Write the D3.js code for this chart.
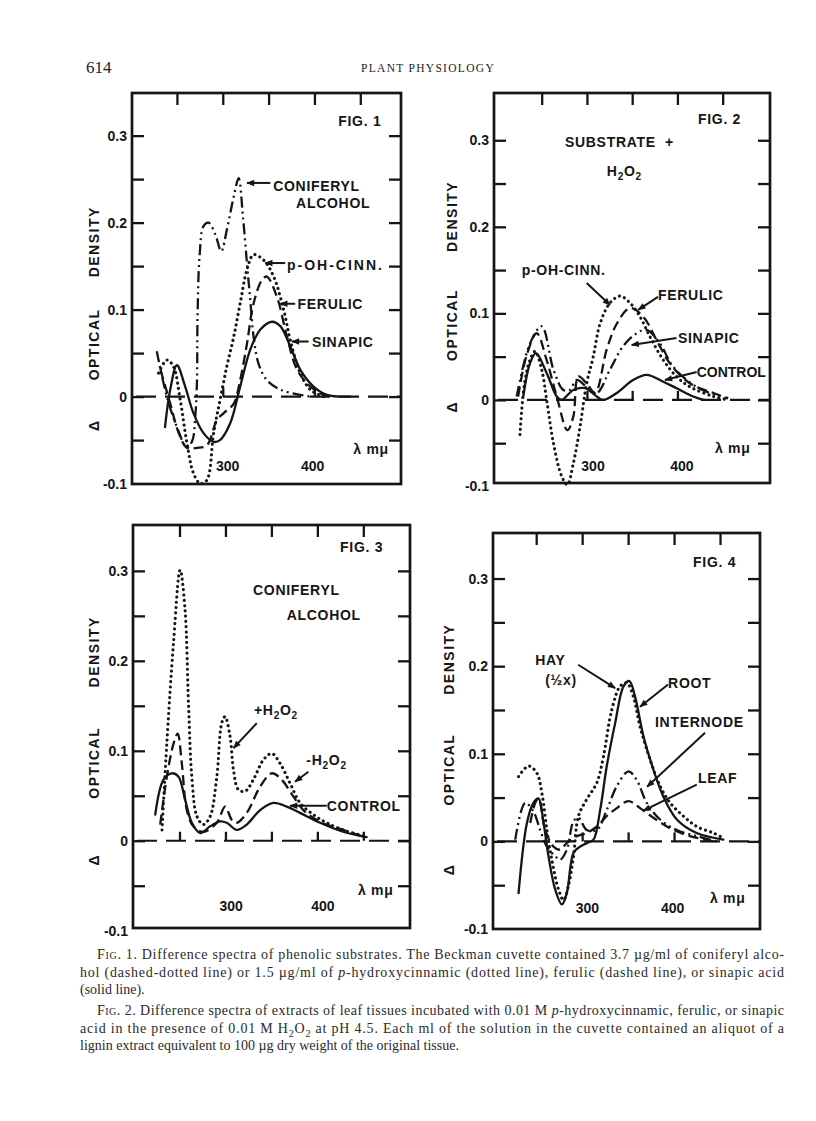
<!DOCTYPE html>
<meta charset="utf-8">
<head>
<style>
body { margin: 0; background: #fff; }
.lab { font-family: "Liberation Sans", Arial, sans-serif; font-weight: bold; font-size: 14px; fill: #151515; }
.cap { font-family: "Liberation Serif", "Times New Roman", serif; font-size: 14px; fill: #2a2a2a; }
</style>
</head>
<body>
<svg width="816" height="1121"></svg>
<script src="https://d3js.org/d3.v7.min.js"></script>
<script>
// ---- data: [wavelength (mu), delta optical density] ----
var xTickValues = [250, 300, 350, 400, 450];
var yTickValues = [-0.05, 0, 0.05, 0.1, 0.15, 0.2, 0.25, 0.3];
var yLabelValues = [-0.1, 0, 0.1, 0.2, 0.3];
var yLabelText = ["-0.1", "0", "0.1", "0.2", "0.3"];
var xLabelText = ["300", "400"];
var axisWords = ["DENSITY", "OPTICAL", "\u0394"];

// Fig 1
var fig1Coniferyl = [[228,0.052],[239,0.0],[250,-0.035],[261,-0.059],[267,-0.05],[270,-0.023],[271.8,0.015],[272.5,0.092],[274.7,0.161],[279,0.196],[284.5,0.2],[292,0.186],[298.4,0.167],[304.5,0.192],[312,0.23],[317.3,0.251],[322,0.207],[326.4,0.153],[330,0.111],[333.6,0.069],[339,0.038],[348,0.019],[362.7,0.008],[384.5,0.002],[395,0]];
var fig1Cinn = [[230,0.027],[239,0.042],[246,0.035],[253.6,-0.004],[261,-0.054],[268,-0.088],[275.5,-0.1],[282.7,-0.096],[290,-0.042],[297,-0.004],[304.5,0.035],[312,0.069],[319,0.107],[326.4,0.146],[333.6,0.163],[344.5,0.157],[355.5,0.138],[366.4,0.1],[373.6,0.065],[384.5,0.027],[395.5,0.008],[410,0]];
var fig1Ferulic = [[232,0.031],[242.7,-0.008],[252,-0.042],[261,-0.059],[272,-0.059],[282.7,-0.056],[293.6,-0.027],[301,-0.019],[312,-0.008],[319,0.019],[326.4,0.061],[333.6,0.107],[342.7,0.134],[348,0.138],[359,0.115],[370,0.069],[381,0.031],[395.5,0.0115],[413.6,0]];
var fig1Sinapic = [[237,-0.035],[242.7,0.008],[250,0.036],[259,0.0115],[268,-0.019],[279,-0.042],[290,-0.052],[297,-0.05],[308,-0.031],[319,0.0115],[330,0.054],[341,0.077],[353.6,0.086],[362.7,0.081],[373.6,0.058],[384.5,0.031],[399,0.0115],[413.6,0.002],[439,0]];

// Fig 2
var fig2Cinn = [[226,-0.04],[231,0.019],[237,0.046],[242.6,0.056],[250,0.035],[255.5,0],[263,-0.05],[272,-0.088],[278.4,-0.098],[285,-0.073],[292.4,-0.031],[299.7,0.019],[307,0.05],[314.5,0.088],[325.5,0.112],[336.6,0.12],[347.6,0.112],[358.7,0.096],[369.7,0.073],[384.4,0.046],[399,0.027],[414,0.015],[439.7,0.004],[456,0]];
var fig2Ferulic = [[224,0.004],[233,0.05],[244.5,0.077],[255.5,0.046],[266.6,0.004],[278.4,-0.035],[285,-0.019],[290.5,0.027],[299.7,0.019],[309,0.008],[321.8,0.058],[333,0.088],[347.6,0.106],[362.3,0.096],[377,0.069],[391.8,0.042],[414,0.019],[439.7,0.008],[456,0.002]];
var fig2Sinapic = [[222.4,0.004],[237,0.065],[250,0.085],[263,0.035],[274,0.0115],[281,0.0115],[288.7,0.023],[299.7,0.015],[310.8,0.008],[325.5,0.035],[340,0.062],[355,0.077],[366,0.081],[380.8,0.065],[395.5,0.038],[421,0.015],[447,0.004],[456,0.002]];
var fig2Control = [[229.7,0.004],[237,0.042],[243.7,0.054],[255.5,0.031],[266.6,0.004],[272,0],[285,0.0115],[298,0.0135],[310.8,0.004],[318,0],[333,0.008],[351,0.023],[366,0.029],[384.4,0.021],[399,0.0135],[417.6,0.004],[428.6,0]];

// Fig 3
var fig3Plus = [[231,0.012],[236.2,0.108],[243.5,0.22],[250.7,0.301],[256,0.257],[260,0.146],[263.4,0.071],[269,0.027],[276,0.018],[283.3,0.027],[290.6,0.071],[296,0.131],[299.6,0.138],[305,0.116],[308.7,0.079],[314,0.057],[321.4,0.055],[330.4,0.068],[341.3,0.09],[350.4,0.097],[359.4,0.086],[370.3,0.064],[381.2,0.042],[395.7,0.029],[410,0.02],[428,0.012],[451.8,0.005]];
var fig3Minus = [[229,0.018],[236.2,0.071],[243.5,0.108],[248,0.119],[252.5,0.086],[258,0.034],[265,0.016],[276,0.01],[290.6,0.02],[299.6,0.038],[307,0.023],[312.3,0.02],[323.2,0.031],[337.7,0.06],[350.4,0.075],[361,0.068],[374,0.049],[384.8,0.034],[403,0.021],[428,0.012],[451.8,0.004]];
var fig3Control = [[223.6,0.029],[232.6,0.068],[241.7,0.075],[249,0.071],[256,0.046],[263.4,0.02],[272.5,0.0085],[283.3,0.016],[294.2,0.0215],[301.4,0.02],[312.3,0.012],[323.2,0.018],[337.7,0.034],[352,0.042],[366.7,0.038],[381,0.031],[403,0.02],[428,0.01],[453.6,0.004]];

// Fig 4
var fig4Hay = [[230.8,0.074],[241.7,0.086],[250.7,0.078],[256.2,0.055],[261.6,0.013],[267,-0.021],[274.3,-0.055],[279.7,-0.067],[285,-0.051],[290.6,-0.017],[296,0.029],[305,0.048],[316,0.067],[323.2,0.097],[332.2,0.15],[341.3,0.177],[348.6,0.181],[355.8,0.165],[363,0.131],[374,0.093],[384.8,0.063],[395.7,0.044],[410,0.029],[424.6,0.017],[442.8,0.0095],[453.6,0.004]];
var fig4Root = [[230.8,-0.059],[239.9,0.021],[247,0.044],[252.5,0.049],[258,0.021],[263.4,-0.017],[270.7,-0.055],[278,-0.072],[283.3,-0.059],[290.6,-0.013],[297.8,-0.006],[305,-0.002],[312.3,0.002],[319.6,0.036],[326.8,0.086],[335.9,0.135],[345,0.177],[351.4,0.183],[357.6,0.165],[366.7,0.12],[377.5,0.082],[388.4,0.051],[403,0.025],[424.6,0.0095],[453.6,0.002]];
var fig4Internode = [[227.2,0.002],[238,0.044],[247,0.034],[254.3,0.013],[261.6,-0.006],[270.7,-0.017],[276,-0.021],[283.3,-0.0095],[290.6,0.023],[296,0.027],[305,0.013],[316,0.013],[326.8,0.036],[337.7,0.063],[350.4,0.08],[359.4,0.07],[370.3,0.044],[384.8,0.025],[403,0.013],[424.6,0.006],[446.4,0]];
var fig4Leaf = [[243.5,0.021],[249,0.044],[252.5,0.049],[259.8,0.013],[268.8,-0.006],[276,-0.0095],[283.3,-0.002],[294.2,0.006],[305,0.0095],[316,0.017],[326.8,0.029],[337.7,0.038],[350.4,0.046],[363,0.038],[377.5,0.027],[395.7,0.015],[417.4,0.006],[442.8,0]];

var captionLines = [
  "~Fig.~ 1.  Difference spectra of phenolic substrates.  The Beckman cuvette contained 3.7 \u00b5g/ml of coniferyl alco-",
  "hol (dashed-dotted line) or 1.5 \u00b5g/ml of *p*-hydroxycinnamic (dotted line), ferulic (dashed line), or sinapic acid",
  "(solid line).",
  "~Fig.~ 2.  Difference spectra of extracts of leaf tissues incubated with 0.01 M *p*-hydroxycinnamic, ferulic, or sinapic",
  "acid in the presence of 0.01 M H_2O_2 at pH 4.5.  Each ml of the solution in the cuvette contained an aliquot of a",
  "lignin extract equivalent to 100 \u00b5g dry weight of the original tissue."
];

// ---- panel layout ----
var panels = [
  { box: [132, 93, 401, 484], xd: [201, 494.4], yd: [-0.1005, 0.349], wordsAt: [0.178, 0.06, -0.033], wordsDx: 38,
    numAt: [305.4, 398, -0.086], baseTicks: [300, 400],
    series: [[fig1Coniferyl, "dashdot"], [fig1Cinn, "dotted"], [fig1Ferulic, "dashed"], [fig1Sinapic, "solid"]],
    notes: [["FIG. 1", 426, 0.311], ["CONIFERYL", 355, 0.236], ["ALCOHOL", 380, 0.217], ["p-OH-CINN.", 370, 0.146, 2],
            ["FERULIC", 381.6, 0.1006], ["SINAPIC", 397.3, 0.0575], ["\u03bb m\u03bc", 442.4, -0.066]],
    arrows: [[351.8, 0.2456, 326.4, 0.2456], [368.1, 0.1535, 346.3, 0.1535], [379, 0.1067, 362.7, 0.1067], [393.6, 0.0633, 375.4, 0.0633]] },
  { box: [494, 93, 770, 483], xd: [197.3, 502.3], yd: [-0.096, 0.3546], wordsAt: [0.212, 0.0865, -0.008], wordsDx: 42,
    numAt: [306.7, 405, -0.0827], baseTicks: [300, 350, 400],
    series: [[fig2Cinn, "dotted"], [fig2Ferulic, "dashed"], [fig2Sinapic, "dashdot"], [fig2Control, "solid"]],
    notes: [["FIG. 2", 422.7, 0.3185], ["SUBSTRATE  +", 275.7, 0.292], ["H_2O_2", 322, 0.259], ["p-OH-CINN.", 227.9, 0.144],
            ["FERULIC", 378.5, 0.1154], ["SINAPIC", 400.6, 0.0654], ["CONTROL", 421.3, 0.0269, 0], ["\u03bb m\u03bc", 441.5, -0.0615]],
    arrows: [[299.7, 0.135, 325.5, 0.1096], [378.5, 0.119, 356.7, 0.104], [399, 0.0715, 349.4, 0.0635], [421.3, 0.0323, 386.2, 0.023]] },
  { box: [133, 525, 410, 928], xd: [199.4, 500.8], yd: [-0.097, 0.351], wordsAt: [0.21, 0.0867, -0.021], wordsDx: 39,
    numAt: [306.2, 406, -0.0786], baseTicks: [250, 300, 350, 400, 450],
    series: [[fig3Plus, "dotted"], [fig3Minus, "dashed"], [fig3Control, "solid"]],
    notes: [["FIG. 3", 424.7, 0.3214], ["CONIFERYL", 330, 0.2733], ["ALCOHOL", 366.7, 0.2456], ["+H_2O_2", 331, 0.14],
            ["-H_2O_2", 388, 0.0844], ["CONTROL", 410.2, 0.0326], ["\u03bb m\u03bc", 444.2, -0.06]],
    arrows: [[334.1, 0.1308, 308.7, 0.103], [390.2, 0.0767, 375.8, 0.0656], [410.2, 0.0389, 370.3, 0.0389]] },
  { box: [493, 533, 760, 929], xd: [203, 493.5], yd: [-0.1, 0.352], wordsAt: [0.208, 0.082, -0.032], wordsDx: 44,
    numAt: [305.8, 398.4, -0.0817], baseTicks: [300, 350, 400],
    series: [[fig4Hay, "dotted"], [fig4Root, "solid"], [fig4Internode, "dashdot"], [fig4Leaf, "dashed"]],
    notes: [["FIG. 4", 420.7, 0.3137], ["HAY", 249, 0.2016], ["(\u00bdx)", 259.8, 0.1787], ["ROOT", 393.5, 0.175],
            ["INTERNODE", 379.3, 0.131], ["LEAF", 426, 0.0666], ["\u03bb m\u03bc", 439, -0.0703]],
    arrows: [[295.7, 0.2016, 335.9, 0.175], [393.5, 0.179, 363, 0.1536], [433.7, 0.124, 370.7, 0.0624], [424.7, 0.0647, 366.6, 0.035]] }
];

var styles = {
  solid:   { w: 2.3, dash: null, cap: "round" },
  dotted:  { w: 3.1, dash: "0.1,5.2", cap: "round" },
  dashed:  { w: 2.3, dash: "10,5", cap: "butt" },
  dashdot: { w: 2.3, dash: "11,4,2,4,2,4", cap: "butt" }
};
var ink = "#151515";

var svg = d3.select("svg");
svg.append("rect").attr("width", 816).attr("height", 1121).attr("fill", "#fff");

svg.append("defs").append("marker")
    .attr("id", "arr").attr("viewBox", "0 0 10 10")
    .attr("refX", 9).attr("refY", 5)
    .attr("markerUnits", "userSpaceOnUse")
    .attr("markerWidth", 11).attr("markerHeight", 8)
    .attr("orient", "auto")
  .append("path").attr("d", "M0,1L10,5L0,9z").attr("fill", ink);

// text with _2 subscripts, ~small caps~ and *italic*
function rich(t, str, size) {
  var down = 0;
  str.split(/(~[^~]+~|\*[^*]+\*|_\d)/).forEach(function(s) {
    if (!s) return;
    var ts = t.append("tspan"), shift = 0, txt = s;
    if (s[0] === "_") { txt = s.slice(1); ts.attr("font-size", size * 0.72); shift = size * 0.3; }
    else if (s[0] === "~") { txt = s.slice(1, -1); ts.style("font-variant", "small-caps"); }
    else if (s[0] === "*") { txt = s.slice(1, -1); ts.style("font-style", "italic"); }
    if (shift !== down) { ts.attr("dy", shift - down); down = shift; }
    ts.text(txt);
  });
}

// page header
svg.append("text").attr("x", 86).attr("y", 73)
    .attr("font-family", "Liberation Serif, serif").attr("font-size", 17).attr("fill", "#222").text("614");
svg.append("text").attr("x", 428).attr("y", 72).attr("text-anchor", "middle")
    .attr("font-family", "Liberation Serif, serif").attr("font-size", 11.5).attr("letter-spacing", 1.3)
    .attr("fill", "#222").text("PLANT PHYSIOLOGY");

panels.forEach(function(p) {
  var x = d3.scaleLinear().domain(p.xd).range([p.box[0], p.box[2]]),
      y = d3.scaleLinear().domain(p.yd).range([p.box[3], p.box[1]]),
      g = svg.append("g");

  var line = d3.line()
      .curve(d3.curveCatmullRom.alpha(0.5))
      .x(function(d) { return x(d[0]); })
      .y(function(d) { return y(d[1]); });

  // inward ticks: left, right, top, and the small ones on the zero line
  function ticks(axis, tr) {
    g.append("g").attr("transform", tr).call(axis)
      .call(function(a) { a.select(".domain").remove(); a.selectAll("line").attr("stroke", ink).attr("stroke-width", 2.3); });
  }
  ticks(d3.axisRight(y).tickValues(yTickValues).tickSize(12).tickFormat(""), "translate(" + p.box[0] + ",0)");
  ticks(d3.axisLeft(y).tickValues(yTickValues).tickSize(12).tickFormat(""), "translate(" + p.box[2] + ",0)");
  ticks(d3.axisBottom(x).tickValues(xTickValues).tickSize(12).tickFormat(""), "translate(0," + p.box[1] + ")");
  ticks(d3.axisTop(x).tickValues(p.baseTicks).tickSize(9).tickFormat(""), "translate(0," + y(0) + ")");

  // y labels
  var yl = g.append("g").attr("transform", "translate(" + p.box[0] + ",0)")
      .call(d3.axisLeft(y).tickValues(yLabelValues).tickSize(0).tickPadding(5)
        .tickFormat(function(d, i) { return yLabelText[i]; }));
  yl.select(".domain").remove();
  yl.attr("font-family", null).attr("font-size", null);
  yl.selectAll("text").attr("class", "lab").attr("fill", null);

  // box
  g.append("rect")
      .attr("x", p.box[0]).attr("y", p.box[1])
      .attr("width", p.box[2] - p.box[0]).attr("height", p.box[3] - p.box[1])
      .attr("fill", "none").attr("stroke", ink).attr("stroke-width", 2.7);

  // zero baseline
  g.append("line")
      .attr("x1", p.box[0] + 4).attr("x2", p.box[2])
      .attr("y1", y(0)).attr("y2", y(0))
      .attr("stroke", ink).attr("stroke-width", 2.2).attr("stroke-dasharray", "20,9");

  // curves
  p.series.forEach(function(s) {
    var st = styles[s[1]];
    g.append("path")
        .attr("d", line(s[0]))
        .attr("fill", "none").attr("stroke", ink)
        .attr("stroke-width", st.w)
        .attr("stroke-linecap", st.cap)
        .attr("stroke-linejoin", "round")
        .attr("stroke-dasharray", st.dash);
  });

  // arrows
  p.arrows.forEach(function(a) {
    g.append("line")
        .attr("x1", x(a[0])).attr("y1", y(a[1]))
        .attr("x2", x(a[2])).attr("y2", y(a[3]))
        .attr("stroke", ink).attr("stroke-width", 2)
        .attr("marker-end", "url(#arr)");
  });

  // annotations
  p.notes.forEach(function(n) {
    var t = g.append("text").attr("class", "lab")
        .attr("x", x(n[1])).attr("y", y(n[2]))
        .attr("letter-spacing", n.length > 3 ? n[3] : 0.7).attr("xml:space", "preserve");
    rich(t, n[0], 14);
  });

  // 300 / 400 inside the frame
  xLabelText.forEach(function(s, i) {
    g.append("text").attr("class", "lab").attr("text-anchor", "middle")
        .attr("x", x(p.numAt[i])).attr("y", y(p.numAt[2])).text(s);
  });

  // rotated axis title
  axisWords.forEach(function(w, i) {
    var cx = p.box[0] - p.wordsDx, cy = y(p.wordsAt[i]);
    g.append("text").attr("class", "lab").attr("text-anchor", "middle")
        .attr("letter-spacing", 1.5)
        .attr("transform", "translate(" + cx + "," + cy + ") rotate(-90)")
        .attr("dy", "0.35em").text(w);
  });
});

// caption
var capY = [959, 977, 994, 1015, 1033, 1050],
    capIndent = [1, 0, 0, 1, 0, 0],
    capJustify = [1, 1, 0, 1, 1, 0];
captionLines.forEach(function(s, i) {
  var x0 = capIndent[i] ? 97 : 80;
  var t = svg.append("text").attr("class", "cap").attr("x", x0).attr("y", capY[i]);
  if (capJustify[i]) t.attr("textLength", 784 - x0).attr("lengthAdjust", "spacing");
  rich(t, s, 14);
});
</script>
</body>
